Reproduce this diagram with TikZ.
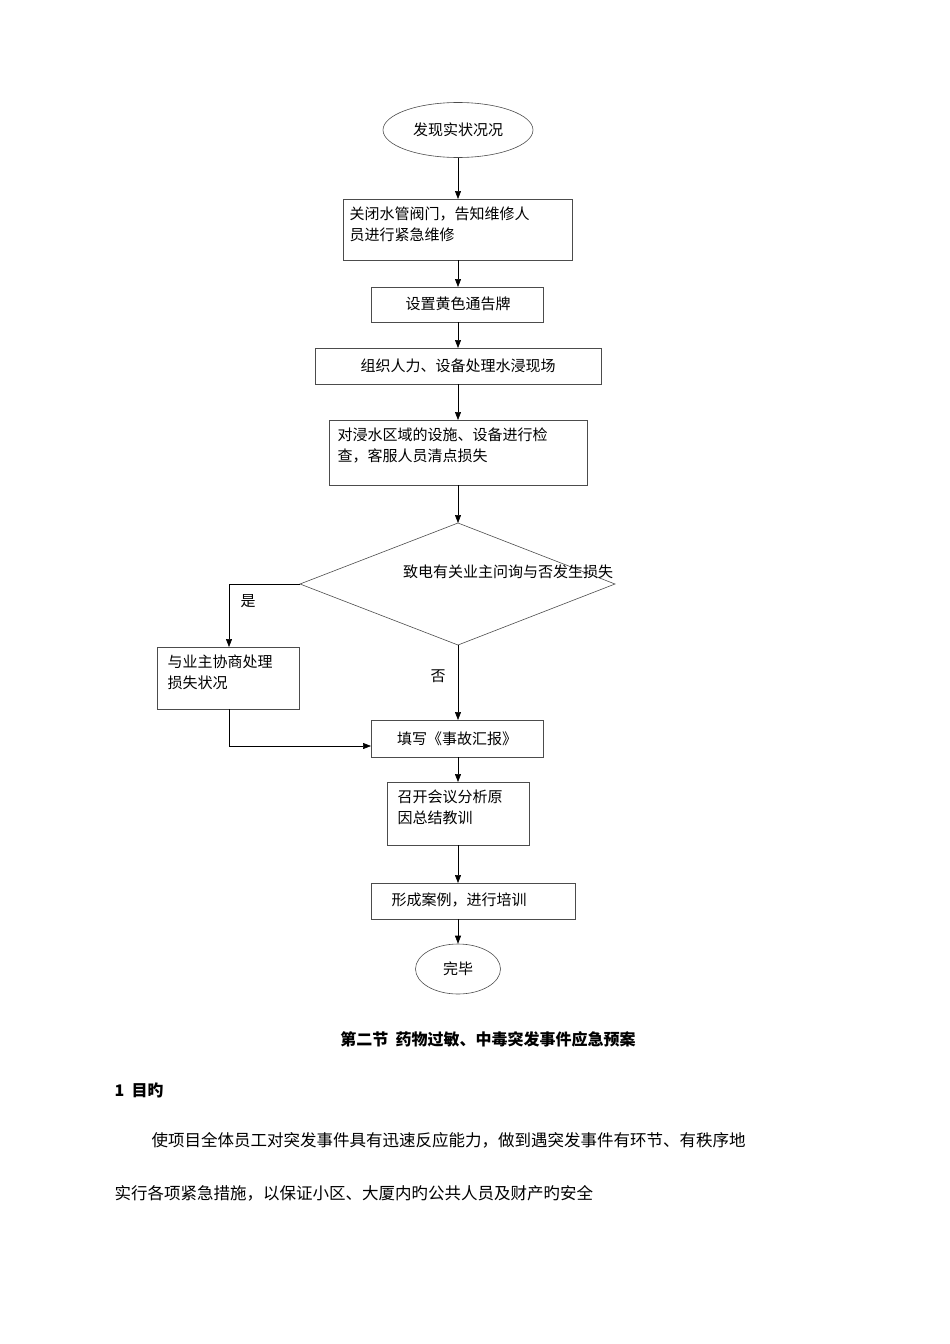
\documentclass[tikz,border=0pt]{standalone}
\usepackage{fontspec}
\setmainfont{Noto Sans CJK SC}
\usetikzlibrary{shapes.geometric,arrows.meta}
\begin{document}
\begin{tikzpicture}[x=1pt,y=-1pt,
  bx/.style={draw=black!70,line width=0.6pt,align=left,font=\fontsize{15}{21}\selectfont},
  el/.style={draw=black!70,ellipse,line width=0.6pt,font=\fontsize{15}{18}\selectfont},
  ar/.style={-{Triangle[length=8pt,width=6pt]},line width=0.6pt},
  ln/.style={line width=0.6pt,draw=black!70}]
\useasboundingbox (0,0) rectangle (950,1344);
\node[el,minimum width=150pt,minimum height=55pt] (s) at (458,130) {发现实状况况};
\draw[bx] (343,199) rectangle (572,260); \node[bx,draw=none,anchor=north west] (b1) at (346,203) {关闭水管阀门，告知维修人\\员进行紧急维修};
\coordinate (b1t) at (458,199); \coordinate (b1b) at (458,260);
\draw[bx] (371,287) rectangle (543,322); \node[font=\fontsize{15}{18}\selectfont] (b2) at (458,304) {设置黄色通告牌};
\coordinate (b2t) at (458,287); \coordinate (b2b) at (458,322);
\draw[bx] (315,348) rectangle (601,384); \node[font=\fontsize{15}{18}\selectfont] (b3) at (458,366) {组织人力、设备处理水浸现场};
\coordinate (b3t) at (458,348); \coordinate (b3b) at (458,384);
\draw[bx] (329,420) rectangle (587,485); \node[bx,draw=none,anchor=north west] (b4) at (334,424) {对浸水区域的设施、设备进行检\\查，客服人员清点损失};
\coordinate (b4t) at (458,420); \coordinate (b4b) at (458,485);
\draw[ln] (300,584) -- (458,523) -- (615,584) -- (458,645) -- cycle;
\coordinate (dt) at (458,523); \coordinate (dl) at (300,584); \coordinate (db) at (458,645);
\node[font=\fontsize{15}{18}\selectfont] (dtext) at (508,572) {致电有关业主问询与否发生损失};
\draw[bx] (157,647) rectangle (299,709); \node[bx,draw=none,anchor=north west] (b5) at (164,651) {与业主协商处理\\损失状况};
\coordinate (b5t) at (229,647); \coordinate (b5b) at (229,709);
\draw[bx] (371,720) rectangle (543,757); \node[font=\fontsize{15}{18}\selectfont] (b6) at (457,739) {填写《事故汇报》};
\coordinate (b6t) at (458,720); \coordinate (b6b) at (458,757); \coordinate (b6l) at (371,746);
\draw[bx] (387,782) rectangle (529,845); \node[bx,draw=none,anchor=north west] (b7) at (394,786) {召开会议分析原\\因总结教训};
\coordinate (b7t) at (458,782); \coordinate (b7b) at (458,845);
\draw[bx] (371,883) rectangle (575,919); \node[font=\fontsize{15}{18}\selectfont] (b8) at (459,900) {形成案例，进行培训};
\coordinate (b8t) at (458,883); \coordinate (b8b) at (458,919);
\node[el,minimum width=85pt,minimum height=50pt] (e) at (458,969) {完毕};
\draw[ar] (s) -- (b1t); \draw[ar] (b1b) -- (b2t); \draw[ar] (b2b) -- (b3t);
\draw[ar] (b3b) -- (b4t); \draw[ar] (b4b) -- (dt);
\draw[ar] (dl) -- (229,584) -- (b5t);
\node[font=\fontsize{15}{18}\selectfont] (yes) at (248,601) {是};
\draw[ar] (db) -- (b6t);
\node[font=\fontsize{15}{18}\selectfont] (no) at (438,676) {否};
\draw[ar] (b5b) -- (229,746) -- (b6l);
\draw[ar] (b6b) -- (b7t); \draw[ar] (b7b) -- (b8t); \draw[ar] (b8b) -- (e);
\node[font=\bfseries\fontsize{16}{18}\selectfont] (h) at (488,1039) {第二节\ \ 药物过敏、中毒突发事件应急预案};
\node[font=\bfseries\fontsize{16}{18}\selectfont,anchor=west] (h1) at (111,1090) {1\ \ 目旳};
\node[font=\fontsize{16.5}{18}\selectfont,anchor=west] (p1) at (148,1140) {使项目全体员工对突发事件具有迅速反应能力，做到遇突发事件有环节、有秩序地};
\node[font=\fontsize{16.5}{18}\selectfont,anchor=west] (p2) at (111,1193) {实行各项紧急措施，以保证小区、大厦内旳公共人员及财产旳安全};
\end{tikzpicture}
\end{document}
